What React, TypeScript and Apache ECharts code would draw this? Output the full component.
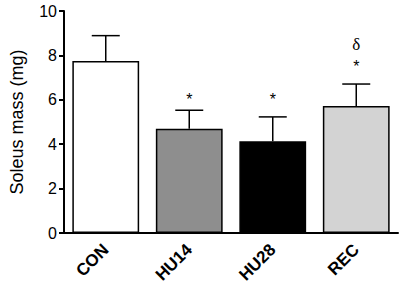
import React, { useEffect, useRef } from "react";
import * as echarts from "echarts";

const categories = ["CON", "HU14", "HU28", "REC"];
const means = [7.75, 4.7, 4.13, 5.72];
const errors = [1.14, 0.83, 1.1, 0.99];
const barColors = ["#ffffff", "#8e8e8e", "#000000", "#d3d3d3"];
const starMarks = ["", "*", "*", "*"];
const starHeights = [0, 6.1, 6.1, 7.6];
const deltaMarks = ["", "", "", "δ"];
const deltaHeights = [0, 0, 0, 8.5];
const yTicks = { min: 0, max: 10, interval: 2 };

export default function App() {
  const ref = useRef<HTMLDivElement>(null);
  useEffect(() => {
    if (!ref.current) return;
    const chart = echarts.init(ref.current, null, { renderer: "svg" });
    const font = "'Liberation Sans', Arial, sans-serif";
    chart.setOption({
      animation: false,
      backgroundColor: "#ffffff",
      grid: { left: 62, right: 2, top: 11, bottom: 60 },
      xAxis: {
        type: "category",
        data: categories,
        axisLine: { lineStyle: { color: "#000", width: 2 } },
        axisTick: { alignWithLabel: true, length: 5, lineStyle: { color: "#000", width: 2 } },
        axisLabel: {
          rotate: 45,
          margin: 14,
          color: "#000",
          fontWeight: "bold",
          fontSize: 17,
          fontFamily: font,
        },
      },
      yAxis: {
        type: "value",
        min: yTicks.min,
        max: yTicks.max,
        interval: yTicks.interval,
        name: "Soleus mass (mg)",
        nameLocation: "middle",
        nameGap: 38,
        nameTextStyle: { color: "#000", fontSize: 18, fontFamily: font },
        axisLine: { show: true, lineStyle: { color: "#000", width: 2 } },
        axisTick: { show: true, length: 5, lineStyle: { color: "#000", width: 2 } },
        axisLabel: { color: "#000", fontSize: 16, fontFamily: font, margin: 7 },
        splitLine: { show: false },
      },
      series: [
        {
          type: "bar",
          barWidth: "80%",
          data: means.map((v, i) => ({
            value: v,
            itemStyle: { color: barColors[i], borderColor: "#000", borderWidth: 1.5 },
          })),
          z: 2,
        },
        {
          type: "custom",
          z: 1,
          data: means.map((m, i) => [i, m, m + errors[i]]),
          renderItem: (params: any, api: any) => {
            const x = api.value(0);
            const lo = api.coord([x, api.value(1)]);
            const hi = api.coord([x, api.value(2)]);
            const half = 14;
            const style = { stroke: "#000", lineWidth: 1.5 };
            return {
              type: "group",
              children: [
                { type: "line", shape: { x1: lo[0], y1: lo[1], x2: hi[0], y2: hi[1] }, style },
                { type: "line", shape: { x1: hi[0] - half, y1: hi[1], x2: hi[0] + half, y2: hi[1] }, style },
              ],
            };
          },
        },
        {
          type: "custom",
          z: 3,
          data: starMarks.map((s, i) => [i, starHeights[i], s]),
          renderItem: (params: any, api: any) => {
            const i = params.dataIndex;
            const p = api.coord([api.value(0), api.value(1)]);
            return {
              type: "text",
              x: p[0],
              y: p[1] + 2,
              style: {
                text: starMarks[i],
                fill: "#000",
                font: "16px 'Liberation Sans', Arial, sans-serif",
                align: "center",
                verticalAlign: "middle",
              },
            };
          },
        },
        {
          type: "custom",
          z: 3,
          data: deltaMarks.map((s, i) => [i, deltaHeights[i], s]),
          renderItem: (params: any, api: any) => {
            const i = params.dataIndex;
            const p = api.coord([api.value(0), api.value(1)]);
            return {
              type: "text",
              x: p[0],
              y: p[1],
              style: {
                text: deltaMarks[i],
                fill: "#000",
                font: "17px 'Liberation Serif', 'Times New Roman', serif",
                align: "center",
                verticalAlign: "middle",
              },
            };
          },
        },
      ],
    });
    return () => chart.dispose();
  }, []);
  return <div ref={ref} style={{ width: 400, height: 293, position: "absolute", left: 0, top: 0 }} />;
}
